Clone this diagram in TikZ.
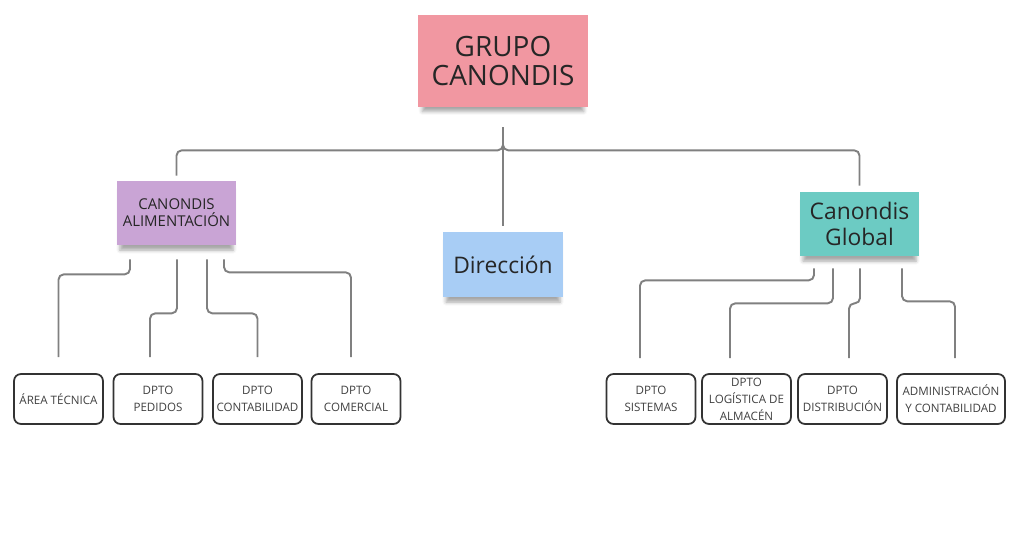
\documentclass[tikz,border=0pt]{standalone}
\usepackage{fontspec}
\setmainfont{Open Sans}
\usepackage{xcolor}
\usetikzlibrary{shadows.blur}
\definecolor{grpfill}{RGB}{241,151,161}
\definecolor{alifill}{RGB}{201,164,213}
\definecolor{dirfill}{RGB}{168,205,245}
\definecolor{glbfill}{RGB}{108,203,195}
\definecolor{linkgray}{RGB}{128,128,128}

\begin{document}
\begin{tikzpicture}[x=0.02cm,y=-0.02cm,
 note/.style={align=center,inner sep=0pt,text=black!85,
  blur shadow={shadow xshift=0pt,shadow yshift=-4pt,shadow opacity=35,shadow scale=0.95}},
 dept/.style={draw=black!80,line width=1pt,rounded corners=4pt,fill=white,align=center,
  inner sep=0pt,minimum width=1.78cm,minimum height=1cm,text=black!75,
  font=\fontsize{6.6}{9.6}\selectfont},
 link/.style={draw=linkgray,line width=1.1pt,rounded corners=3pt}]
\useasboundingbox (0,0) rectangle (1024,560);
\node[note,fill=grpfill,minimum width=3.4cm,minimum height=1.84cm,
 font=\fontsize{15.9}{17}\selectfont] (grp) at (503,61) {GRUPO\\CANONDIS};
\node[note,fill=alifill,minimum width=2.38cm,minimum height=1.28cm,
 font=\fontsize{8.5}{9.6}\selectfont] (ali) at (176.5,213) {CANONDIS\\ALIMENTACIÓN};
\node[note,fill=dirfill,minimum width=2.4cm,minimum height=1.3cm,
 font=\fontsize{13}{14.7}\selectfont] (dir) at (503,264.5) {Dirección};
\node[note,fill=glbfill,minimum width=2.38cm,minimum height=1.28cm,
 font=\fontsize{13}{14.7}\selectfont] (glb) at (859.5,224) {Canondis\\Global};
% alimentacion
\node[dept] (tec) at (58.5,399) {ÁREA TÉCNICA};
\node[dept] (ped) at (158,399) {DPTO\\PEDIDOS};
\node[dept] (con) at (257.5,399) {DPTO\\CONTABILIDAD};
\node[dept] (com) at (356,399) {DPTO\\COMERCIAL};
% global
\node[dept] (sis) at (651,399) {DPTO\\SISTEMAS};
\node[dept] (log) at (746.5,399) {DPTO\\LOGÍSTICA DE\\ALMACÉN};
\node[dept] (dis) at (842.5,399) {DPTO\\DISTRIBUCIÓN};
\node[dept,minimum width=2.16cm] (adm) at (951,399) {ADMINISTRACIÓN\\Y CONTABILIDAD};
% top level
\draw[link] ([shift={(0,20)}]grp.south) -- ++(0,23) -| ([shift={(0,-5)}]ali.north);
\draw[link] ([shift={(0,20)}]grp.south) -- ++(0,23) -| ([shift={(0,-6)}]glb.north);
\draw[link] ([shift={(0,20)}]grp.south) -- ([shift={(0,-6)}]dir.north);
% alimentacion links
\draw[link] ([shift={(-46.5,14)}]ali.south) -- ++(0,15) -| ([shift={(0,-16)}]tec.north);
\draw[link] ([shift={(0.5,14)}]ali.south) -- ++(0,54) -| ([shift={(-8,-16)}]ped.north);
\draw[link] ([shift={(30.5,14)}]ali.south) -- ++(0,54) -| ([shift={(0,-16)}]con.north);
\draw[link] ([shift={(47.5,14)}]ali.south) -- ++(0,13) -| ([shift={(-5,-16)}]com.north);
% global links
\draw[link] ([shift={(-45.5,12)}]glb.south) -- ++(0,12) -| ([shift={(-11,-15)}]sis.north);
\draw[link] ([shift={(-26.5,12)}]glb.south) -- ++(0,35) -| ([shift={(-16.5,-15)}]log.north);
\draw[link] ([shift={(0.5,12)}]glb.south) -- ++(0,35) -| ([shift={(6.5,-15)}]dis.north);
\draw[link] ([shift={(42.5,12)}]glb.south) -- ++(0,33) -| ([shift={(4,-15)}]adm.north);
\end{tikzpicture}
\end{document}
